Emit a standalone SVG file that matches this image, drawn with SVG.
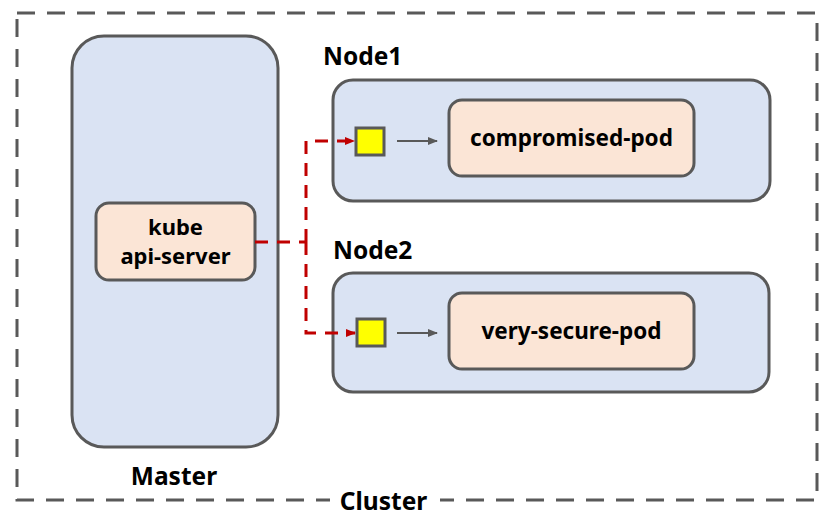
<svg xmlns="http://www.w3.org/2000/svg" width="831" height="516" viewBox="0 0 831 516">
<style>
.lbl{font-family:"Noto Sans","Liberation Sans",sans-serif;font-weight:700;fill:#000}
.big{font-size:24.5px}
.mid{font-size:22.5px}
.sm{font-size:22px}
.box{fill:#DAE3F3;stroke:#595959;stroke-width:3}
.pod{fill:#FBE5D6;stroke:#595959;stroke-width:3}
.port{fill:#FFFF00;stroke:#595959;stroke-width:3}
.red{fill:none;stroke:#C00000;stroke-width:3;stroke-dasharray:13 9}
.gray{fill:none;stroke:#595959;stroke-width:2}
</style>
<defs>
<marker id="ar" markerWidth="10" markerHeight="8" refX="9" refY="4" orient="auto" markerUnits="userSpaceOnUse"><path d="M0,0 L10,4 L0,8 z" fill="#C00000"/></marker>
<marker id="ag" markerWidth="10" markerHeight="8" refX="9" refY="4" orient="auto" markerUnits="userSpaceOnUse"><path d="M0,0 L10,4 L0,8 z" fill="#595959"/></marker>
</defs>
<rect width="831" height="516" fill="#fff"/>
<g id="cluster">
<rect x="17" y="13" width="800" height="487" fill="none" stroke="#595959" stroke-width="3" stroke-dasharray="18 12"/>
<rect x="330" y="488" width="110" height="28" fill="#fff"/>
<text class="lbl big" x="383.5" y="510" text-anchor="middle">Cluster</text>
</g>
<g id="master">
<rect class="box" x="72" y="36" width="206" height="411" rx="32"/>
<text class="lbl big" x="174" y="485" text-anchor="middle">Master</text>
</g>
<g id="api-server">
<rect class="pod" x="96" y="203" width="159" height="77" rx="13"/>
<text class="lbl sm" x="175.5" y="235" text-anchor="middle">kube</text>
<text class="lbl sm" x="175.5" y="264" text-anchor="middle">api-server</text>
</g>
<g id="node1">
<rect class="box" x="333" y="80" width="437" height="121" rx="20"/>
<text class="lbl big" x="323" y="65">Node1</text>
</g>
<g id="port1"><rect class="port" x="356" y="128" width="28" height="27"/></g>
<g id="compromised-pod">
<rect class="pod" x="449" y="100" width="245" height="76" rx="13"/>
<text class="lbl mid" x="571.5" y="146" text-anchor="middle">compromised-pod</text>
</g>
<g id="node2">
<rect class="box" x="333" y="273" width="436" height="119" rx="20"/>
<text class="lbl big" x="333" y="259">Node2</text>
</g>
<g id="port2"><rect class="port" x="357" y="319" width="28" height="27"/></g>
<g id="very-secure-pod">
<rect class="pod" x="449" y="293" width="245" height="76" rx="13"/>
<text class="lbl mid" x="571.5" y="339" text-anchor="middle">very-secure-pod</text>
</g>
<g id="connectors">
<path class="red" d="M255,242 H306"/>
<path class="red" d="M306,242 V141 H354" marker-end="url(#ar)"/>
<path class="red" d="M306,242 V333 H355" marker-end="url(#ar)"/>
<path class="gray" d="M397,141 H437" marker-end="url(#ag)"/>
<path class="gray" d="M397,333 H437" marker-end="url(#ag)"/>
</g>
</svg>
